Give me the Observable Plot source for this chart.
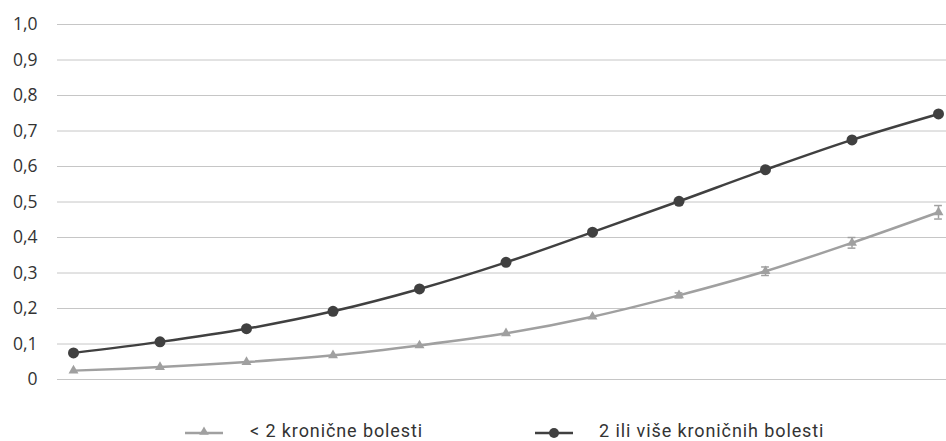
<!DOCTYPE html>
<html>
<head>
<meta charset="utf-8">
<script src="https://cdn.jsdelivr.net/npm/d3@7"></script>
<script src="https://cdn.jsdelivr.net/npm/@observablehq/plot@0.6"></script>
<style>
  body { margin: 0; background: #fff; }
  #wrap { position: relative; width: 946px; height: 441px; overflow: hidden; }
  #legend { position: absolute; left: 0; top: 413px; }
</style>
</head>
<body>
<div id="wrap"></div>
<script>
const points = [1, 2, 3, 4, 5, 6, 7, 8, 9, 10, 11];
const seriesNames = ["< 2 kronične bolesti", "2 ili više kroničnih bolesti"];
const lowValues  = [0.025, 0.035, 0.049, 0.068, 0.096, 0.130, 0.177, 0.237, 0.305, 0.385, 0.471];
const lowErr     = [0, 0, 0, 0, 0, 0, 0, 0.007, 0.012, 0.015, 0.019];
const highValues = [0.075, 0.106, 0.143, 0.192, 0.255, 0.330, 0.415, 0.502, 0.591, 0.675, 0.748];
const yTicks = [0, 0.1, 0.2, 0.3, 0.4, 0.5, 0.6, 0.7, 0.8, 0.9, 1.0];

const low = points.map((x, i) => ({x, y: lowValues[i], e: lowErr[i]}));
const high = points.map((x, i) => ({x, y: highValues[i]}));
const errs = low.filter(d => d.e > 0);

const fmt = d => d === 0 ? "0" : d.toFixed(1).replace(".", ",");

const chart = Plot.plot({
  width: 946,
  height: 413,
  marginLeft: 73,
  marginRight: 8,
  marginTop: 24,
  marginBottom: 34,
  style: {fontFamily: "'Open Sans', 'Liberation Sans', sans-serif", color: "#333333", overflow: "visible"},
  x: {domain: [1, 11], axis: null},
  y: {domain: [0, 1], axis: null},
  marks: [
    Plot.ruleY(yTicks, {stroke: "#c6c6c6", strokeWidth: 1, insetLeft: -16, insetRight: -8}),
    Plot.axisY(yTicks, {tickFormat: fmt, tickSize: 0, tickPadding: 36, label: null, fontSize: 17.5, fill: "#333333", style: {letterSpacing: "0.6px"}}),
    Plot.line(low, {x: "x", y: "y", stroke: "#a0a0a0", strokeWidth: 2.5, curve: "catmull-rom"}),
    Plot.line(high, {x: "x", y: "y", stroke: "#404040", strokeWidth: 2.5, curve: "catmull-rom"}),
    Plot.ruleX(errs, {x: "x", y1: d => d.y - d.e, y2: d => d.y + d.e, stroke: "#a0a0a0", strokeWidth: 1.5}),
    Plot.ruleY(errs, {y: d => d.y + d.e, x1: d => d.x - 0.045, x2: d => d.x + 0.045, stroke: "#a0a0a0", strokeWidth: 1.5}),
    Plot.ruleY(errs, {y: d => d.y - d.e, x1: d => d.x - 0.045, x2: d => d.x + 0.045, stroke: "#a0a0a0", strokeWidth: 1.5}),
    Plot.dot(low, {x: "x", y: "y", symbol: "triangle", r: 3.7, fill: "#a0a0a0", stroke: "none"}),
    Plot.dot(high, {x: "x", y: "y", r: 5.5, fill: "#404040", stroke: "none"})
  ]
});

const wrap = document.getElementById("wrap");
wrap.appendChild(chart);

// legend below the plot
const leg = d3.create("svg").attr("id", "legend").attr("width", 946).attr("height", 28)
  .style("font-family", "Roboto, 'DejaVu Sans Condensed', sans-serif");
function legendItem(lineX, textX, color, shape, label) {
  const g = leg.append("g");
  g.append("line").attr("x1", lineX).attr("x2", lineX + 38).attr("y1", 20).attr("y2", 20)
    .attr("stroke", color).attr("stroke-width", 2.5);
  if (shape === "triangle") {
    g.append("path").attr("d", d3.symbol(d3.symbolTriangle, 40)())
      .attr("transform", `translate(${lineX + 19},19)`).attr("fill", color);
  } else {
    g.append("circle").attr("cx", lineX + 19).attr("cy", 20).attr("r", 5).attr("fill", color);
  }
  g.append("text").attr("x", textX).attr("y", 23.5).attr("fill", "#333333")
    .attr("font-size", 18).attr("letter-spacing", "0.9px").text(label);
}
legendItem(185, 250, "#a0a0a0", "triangle", seriesNames[0]);
legendItem(535, 599, "#404040", "circle", seriesNames[1]);
wrap.appendChild(leg.node());
</script>
</body>
</html>
